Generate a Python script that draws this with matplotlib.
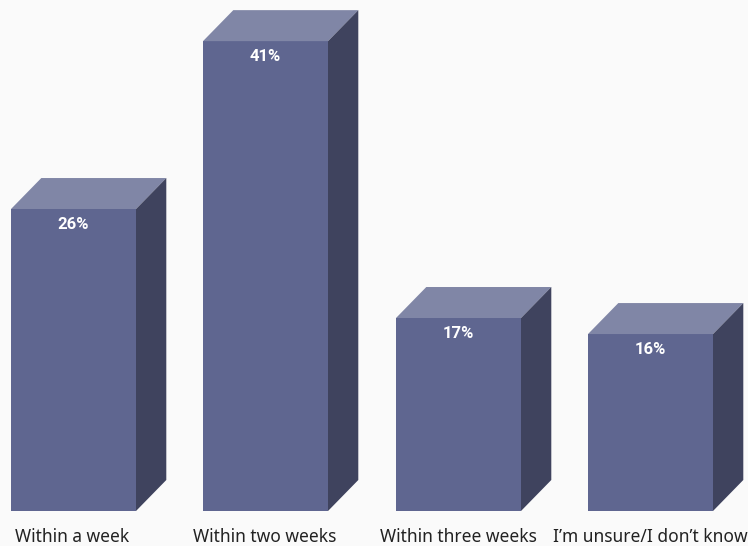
import matplotlib
matplotlib.use("Agg")
import matplotlib.pyplot as plt

categorias = ["Within a week", "Within two weeks", "Within three weeks", "I’m unsure/I don’t know"]
etiquetas = ["26%", "41%", "17%", "16%"]
# alturas (las barras no son del todo proporcionales)
alturas = [26.35, 41.0, 16.84, 15.44]
izquierdas = [11, 203, 396, 588]

ancho = 125
prof_x = 30.3
escala = 11.46  # px por unidad
prof_y = 31 / escala
base_px = 511

color_frente = "#5f6690"
color_arriba = "#8086a6"
color_lado = "#3f435e"

fig = plt.figure(figsize=(7.48, 5.46), dpi=100, facecolor="#fafafa")
ax = fig.add_axes([0, 0, 1, 1])
ax.set_xlim(0, 748)
ax.set_ylim(-(546 - base_px) / escala, base_px / escala)
ax.axis("off")

ax.bar(izquierdas, alturas, width=ancho, align="edge", color=color_frente, linewidth=0)

for x, h, et in zip(izquierdas, alturas, etiquetas):
    # Cara superior
    ax.fill([x, x + ancho, x + ancho + prof_x, x + prof_x],
            [h, h, h + prof_y, h + prof_y], color=color_arriba, linewidth=0)
    # Cara lateral
    ax.fill([x + ancho, x + ancho + prof_x, x + ancho + prof_x, x + ancho],
            [0, prof_y, h + prof_y, h], color=color_lado, linewidth=0)
    ax.annotate(et, (x + ancho / 2 - 0.5, h), xytext=(0, -15), textcoords="offset pixels",
                ha="center", va="center", color="white", fontsize=12,
                fontweight="bold", family="Roboto")

centros = [72.5, 265, 458, 650]
for c, cat in zip(centros, categorias):
    ax.text(c, -(537 - base_px) / escala, cat, ha="center", va="center",
            color="#222222", fontsize=12.5, family="Noto Sans")

fig.savefig("out.png", dpi=100, facecolor=fig.get_facecolor())
